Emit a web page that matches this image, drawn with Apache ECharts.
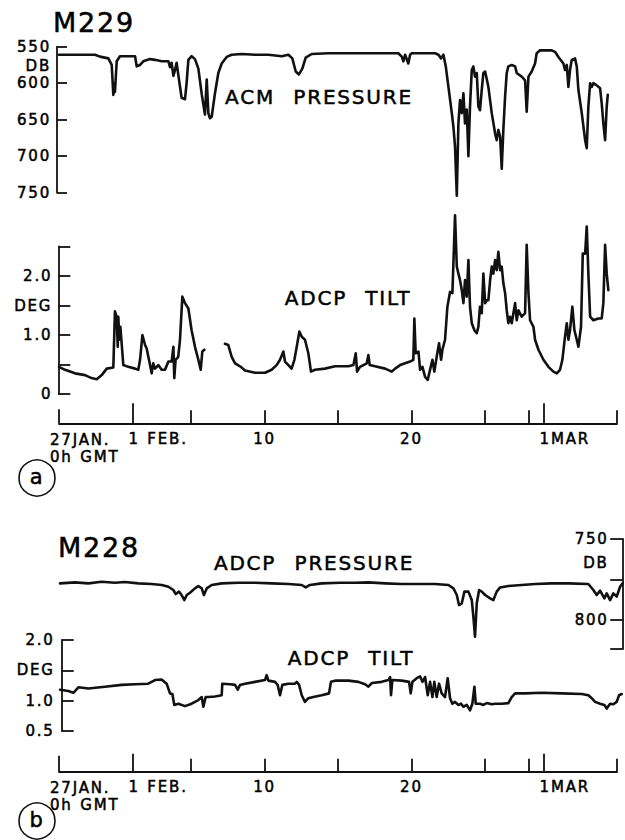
<!DOCTYPE html>
<html>
<head>
<meta charset="utf-8">
<script src="https://cdn.jsdelivr.net/npm/echarts@6/dist/echarts.min.js"></script>
<style>
  html, body { margin: 0; padding: 0; background: #fff; }
  #chart { width: 625px; height: 840px; }
  #chart text { letter-spacing: 1.8px; word-spacing: 1px; }
</style>
</head>
<body>
<div id="chart"></div>
<script>
// Time is counted in days from 27 Jan, 0h GMT.

// ---- M229: ACM pressure (dbar) ----
const m229PressureDays = [0, 1.09, 2.45, 2.79, 3.36, 3.59, 3.70, 3.77, 3.81, 3.93,
  4.15, 5.18, 5.29, 5.52, 5.74, 6.20, 6.54, 6.99, 7.45, 7.56,
  7.67, 7.79, 7.90, 8.01, 8.17, 8.35, 8.58, 8.69, 8.81, 9.03,
  9.26, 9.49, 9.72, 9.94, 10.06, 10.17, 10.28, 10.40, 10.62, 10.85,
  11.08, 11.42, 11.76, 12.44, 13.35, 14.26, 15.17, 15.62, 15.89, 16.12,
  16.34, 16.57, 16.80, 17.21, 18.34, 19.14, 21.07, 23.11, 23.34, 23.45,
  23.57, 23.79, 23.91, 24.02, 25.61, 25.84, 26.02, 26.18, 26.34, 26.52,
  26.75, 26.86, 26.97, 27.09, 27.20, 27.31, 27.43, 27.54, 27.65, 27.77,
  27.88, 27.99, 28.11, 28.22, 28.33, 28.45, 28.56, 28.67, 28.79, 28.90,
  29.02, 29.24, 29.47, 29.70, 29.81, 29.92, 30.04, 30.15, 30.26, 30.38,
  30.49, 30.60, 30.83, 31.06, 31.17, 31.51, 31.74, 31.85, 31.97, 32.19,
  32.42, 32.53, 32.76, 33.56, 33.78, 34.01, 34.35, 34.46, 34.58, 34.69,
  34.80, 34.92, 35.14, 35.26, 35.37, 35.60, 35.83, 35.94, 36.05, 36.17,
  36.28, 36.39, 36.62, 36.85, 36.96, 37.07, 37.19, 37.30, 37.37];
const m229PressureDb = [561, 561, 561, 563.6, 566, 575, 616, 600, 612, 570,
  563, 563, 577, 575, 570, 567, 568, 570, 570, 578,
  572, 590, 582, 572, 595, 620, 622, 600, 568, 563,
  567, 580, 615, 643, 595, 641, 648, 646, 614, 586,
  573, 564, 561, 560, 561, 561, 563, 561, 566, 584,
  588, 580, 565, 560, 559, 559, 559, 559, 563.6, 570,
  561, 573, 561, 559, 559, 561, 566, 561, 577, 605,
  641, 660, 687, 754, 655, 623, 641, 614, 655, 636,
  700, 632, 582, 577, 591, 586, 632, 637, 609, 586,
  584, 605, 641, 669, 678, 664, 673, 717, 664, 618,
  586, 577, 575, 577, 586, 591, 596, 639, 591, 584,
  573, 559, 555, 555, 557, 564, 573, 582, 575, 605,
  582, 568, 566, 577, 609, 641, 678, 689, 632, 600,
  605, 600, 603, 607, 628, 655, 678, 632, 616];

// ---- M229: ADCP tilt (deg); null marks the data gap ----
const m229TiltDays = [0, 0.41, 1.09, 1.77, 2.22, 2.57, 2.91, 3.25, 3.70, 3.81,
  3.93, 4.00, 4.04, 4.11, 4.18, 4.38, 4.72, 5.18, 5.40, 5.52,
  5.68, 5.86, 5.97, 6.20, 6.31, 6.42, 6.54, 6.76, 6.99, 7.22,
  7.45, 7.67, 7.79, 7.85, 7.94, 8.12, 8.24, 8.40, 8.58, 8.81,
  9.03, 9.26, 9.49, 9.65, 9.76, 9.90, 10.60,
  11.30, 11.53, 11.76, 11.99, 12.33, 12.67, 13.35, 14.03, 14.48, 14.82,
  15.05, 15.28, 15.39, 15.62, 15.84, 16.03, 16.19, 16.37, 16.53, 16.75,
  16.98, 17.16, 17.43, 18.11, 18.80, 19.71, 20.05, 20.21, 20.30, 20.50,
  20.96, 21.07, 21.16, 21.52, 22.21, 22.66, 22.89, 23.23, 23.57, 23.91,
  24.13, 24.20, 24.29, 24.48, 24.59, 24.75, 24.93, 25.11, 25.27, 25.43,
  25.56, 25.72, 25.88, 26.02, 26.11, 26.29, 26.45, 26.63, 26.79, 26.97,
  27.09, 27.20, 27.31, 27.43, 27.54, 27.65, 27.77, 27.88, 27.99, 28.11,
  28.29, 28.45, 28.56, 28.67, 28.79, 28.90, 29.02, 29.13, 29.24, 29.36,
  29.47, 29.58, 29.70, 29.81, 29.92, 30.04, 30.15, 30.26, 30.38, 30.49,
  30.60, 30.72, 30.83, 31.06, 31.17, 31.29, 31.51, 31.74, 31.85, 31.97,
  32.08, 32.31, 32.42, 32.65, 32.99, 33.33, 33.67, 33.90, 34.12, 34.28,
  34.46, 34.58, 34.69, 34.80, 34.96, 35.10, 35.26, 35.37, 35.55, 35.67,
  35.83, 35.94, 36.05, 36.17, 36.39, 36.73, 36.96, 37.07, 37.19, 37.30,
  37.41];
const m229TiltDeg = [0.46, 0.41, 0.35, 0.32, 0.27, 0.25, 0.32, 0.43, 0.45, 1.40,
  1.31, 0.80, 1.31, 0.92, 1.14, 0.49, 0.46, 0.43, 0.41, 0.58,
  1.00, 0.83, 0.77, 0.49, 0.35, 0.52, 0.43, 0.49, 0.41, 0.41,
  0.55, 0.55, 0.80, 0.27, 0.58, 0.63, 0.92, 1.65, 1.54, 1.45,
  1.08, 0.80, 0.58, 0.41, 0.72, 0.75, null,
  0.85, 0.83, 0.63, 0.52, 0.47, 0.40, 0.36, 0.36, 0.41, 0.49,
  0.58, 0.72, 0.55, 0.49, 0.43, 0.58, 0.80, 1.06, 0.97, 0.92,
  0.69, 0.38, 0.41, 0.43, 0.47, 0.47, 0.49, 0.69, 0.38, 0.46,
  0.52, 0.66, 0.49, 0.47, 0.43, 0.38, 0.43, 0.49, 0.52, 0.55,
  0.58, 1.28, 0.69, 0.72, 0.41, 0.46, 0.29, 0.24, 0.41, 0.58,
  0.38, 0.63, 0.86, 0.58, 0.75, 0.92, 1.48, 1.73, 1.71, 3.03,
  2.16, 2.04, 1.93, 1.76, 1.54, 1.93, 1.65, 2.27, 1.48, 1.20,
  1.08, 1.03, 1.14, 1.48, 1.37, 2.04, 1.54, 1.59, 1.59, 1.93,
  2.16, 2.04, 2.27, 2.10, 2.41, 2.10, 2.16, 1.88, 1.71, 1.42,
  1.20, 1.31, 1.20, 1.54, 1.25, 1.42, 1.31, 1.37, 2.53, 1.71,
  1.25, 1.14, 0.92, 0.75, 0.58, 0.46, 0.38, 0.35, 0.41, 0.58,
  0.97, 1.20, 0.92, 1.08, 1.48, 1.08, 0.92, 0.80, 1.14, 2.38,
  2.38, 2.84, 2.04, 1.31, 1.25, 1.28, 1.28, 1.54, 2.53, 2.04,
  1.76];

// ---- M228: ADCP pressure (dbar) ----
const m228PressureDays = [0.07, 1.09, 2.0, 2.9, 3.81, 4.49, 5.4, 6.3, 7.0, 7.45,
  7.79, 7.95, 8.17, 8.35, 8.54, 8.70, 8.92, 9.26, 9.49, 9.72,
  9.87, 10.06, 10.40, 11.08, 12.21, 13.35, 14.48, 15.62, 16.53, 16.80,
  17.09, 17.89, 19.14, 20.16, 21.07, 22.21, 23.34, 24.70, 25.61, 26.52,
  26.86, 27.09, 27.24, 27.43, 27.61, 27.88, 28.11, 28.22, 28.33, 28.45,
  28.61, 28.79, 29.02, 29.36, 29.58, 29.81, 30.04, 30.60, 31.51, 32.42,
  33.56, 34.69, 36.05, 36.39, 36.62, 36.85, 37.14, 37.30, 37.53, 37.75,
  37.98, 38.21, 38.37];
const m228PressureDb = [777.5, 776.9, 777.5, 776.5, 777.1, 776.7, 777.5, 777.9, 778.5, 779.6,
  781.6, 784.1, 782.6, 784.7, 787.8, 784.7, 783.3, 780.6, 779.1, 780.6,
  784.7, 780.6, 778.5, 777.5, 777.1, 777.1, 777.5, 777.9, 778.5, 780,
  778.5, 777.5, 777.1, 777.1, 776.9, 777.5, 777.9, 777.9, 777.9, 778.5,
  780.6, 784.7, 790.9, 789.8, 782.6, 782.6, 787.8, 798.1, 810.4, 789.8,
  781.6, 782.6, 784.7, 786.8, 787.8, 782.6, 780, 779.1, 778.5, 777.9,
  777.5, 777.5, 777.9, 781.6, 784.7, 782, 786.8, 783.7, 787.8, 783.7,
  785.7, 779.6, 777.5];

// ---- M228: ADCP tilt (deg) ----
const m228TiltDays = [0.07, 0.63, 0.98, 1.32, 2.0, 3.13, 4.27, 5.18, 6.08, 6.54,
  6.99, 7.33, 7.56, 7.72, 7.85, 8.13, 8.58, 9.03, 9.49, 9.72,
  9.83, 9.99, 10.17, 10.62, 11.08, 11.12, 11.65, 11.99, 12.17, 12.33,
  12.67, 13.35, 14.03, 14.14, 14.26, 14.71, 14.89, 15.05, 15.21, 15.62,
  16.07, 16.19, 16.35, 16.53, 16.75, 16.98, 17.32, 17.89, 18.39, 18.52,
  18.80, 19.71, 20.39, 20.84, 21.07, 21.30, 21.98, 22.43, 22.55, 22.61,
  22.70, 23.34, 23.84, 23.95, 24.07, 24.36, 24.59, 24.75, 24.93, 25.11,
  25.27, 25.43, 25.56, 25.72, 25.88, 26.06, 26.29, 26.47, 26.63, 26.79,
  26.97, 27.20, 27.38, 27.54, 27.77, 27.99, 28.15, 28.29, 28.38, 28.67,
  28.90, 29.13, 29.47, 29.70, 30.15, 30.60, 30.83, 31.06, 31.74, 32.87,
  34.24, 35.60, 36.05, 36.28, 36.51, 36.85, 37.14, 37.30, 37.53, 37.75,
  37.98, 38.14, 38.32];
const m228TiltDeg = [1.18, 1.16, 1.13, 1.22, 1.20, 1.23, 1.26, 1.27, 1.28, 1.34,
  1.35, 1.28, 1.12, 1.11, 0.93, 0.95, 0.91, 0.95, 1.01, 1.06,
  0.90, 1.06, 1.06, 1.07, 1.09, 1.28, 1.27, 1.26, 1.18, 1.26,
  1.28, 1.31, 1.34, 1.42, 1.33, 1.31, 1.26, 1.09, 1.26, 1.28,
  1.28, 1.31, 1.26, 1.09, 0.98, 1.04, 1.06, 1.09, 1.12, 1.31,
  1.33, 1.33, 1.31, 1.27, 1.23, 1.29, 1.31, 1.34, 1.39, 1.09,
  1.34, 1.33, 1.31, 1.12, 1.31, 1.37, 1.40, 1.31, 1.39, 1.09,
  1.31, 1.06, 1.31, 1.06, 1.28, 1.12, 1.06, 1.37, 1.04, 0.95,
  0.98, 0.93, 0.95, 0.90, 0.93, 0.84, 0.95, 1.23, 0.95, 0.95,
  0.93, 0.96, 0.94, 0.95, 0.95, 0.96, 1.06, 1.12, 1.12, 1.13,
  1.12, 1.11, 1.09, 1.04, 0.98, 0.95, 0.93, 0.87, 0.95, 0.94,
  0.98, 1.09, 1.11];

// ---- Time axis: tick days and labels ----
const spanDays = 38;                         // 27 Jan -> 6 Mar
const minorTickDays = [9, 14, 19, 24, 29, 32, 38];
const dayLabelDays = [14, 24];
const dayLabelTexts = ['10', '20'];
const monthTickDays = [5, 33];
const monthLabelTexts = ['1 FEB.', '1MAR'];
const startTickDays = [0];
const startLabelText = '27JAN.\n0h GMT';

// ---- Vertical axes: ticks and labels ----
const m229PressureTicks = [550, 600, 650, 700, 750];
const m229PressureLabelValues = [550, 576, 600, 650, 700, 750];
const m229PressureLabelTexts = ['550', 'DB', '600', '650', '700', '750'];
const m229TiltTicks = [0, 0.5, 1, 1.5, 2, 2.5];
const m229TiltLabelValues = [0, 1, 1.5, 2];
const m229TiltLabelTexts = ['0', '1.0', 'DEG', '2.0'];
const m228PressureTicks = [750, 775, 800, 818];
const m228PressureLabelValues = [750, 765, 800];
const m228PressureLabelTexts = ['750', 'DB', '800'];
const m228TiltTicks = [0.5, 1, 1.5, 2];
const m228TiltLabelValues = [0.5, 1, 1.5, 2];
const m228TiltLabelTexts = ['0.5', '1.0', 'DEG', '2.0'];

const INK = '#111';
const FONT = 'DejaVu Sans';
const labelStyle = {
  color: '#000', fontFamily: FONT, fontSize: 15,
  textBorderColor: '#000', textBorderWidth: 0.5
};
const axisLineStyle = { color: INK, width: 1.8 };

const zip = (xs, ys) => xs.map((x, i) => [x, ys[i]]);
const lookup = (values, texts) => v => {
  const i = values.findIndex(u => Math.abs(u - v) < 1e-6);
  return i < 0 ? '' : texts[i];
};

// Panel grids share the same day -> pixel scale.
const plotLeft = 59, plotRight = 8, wideRight = 2.3;
const pxPerDay = (625 - plotLeft - plotRight) / spanDays;
const wideSpan = (625 - plotLeft - wideRight) / pxPerDay;

const grids = [
  { left: plotLeft, right: plotRight, top: 46.7, height: 146 },   // M229 pressure
  { left: plotLeft, right: plotRight, top: 246.5, height: 147.5 }, // M229 tilt
  { left: plotLeft, right: plotRight, top: 410, height: 13.3 },   // M229 time axis
  { left: plotLeft, right: wideRight, top: 538.8, height: 110.2 }, // M228 pressure
  { left: plotLeft, right: wideRight, top: 640, height: 91 },      // M228 tilt
  { left: plotLeft, right: plotRight, top: 758, height: 13.7 }    // M228 time axis
];

function hiddenX(gridIndex, max) {
  return { gridIndex, type: 'value', min: 0, max, show: false };
}
function hiddenY(gridIndex) {
  return { gridIndex, type: 'value', min: 0, max: 1, show: false };
}

function timeAxes(gridIndex, minorLen, monthLen, startLen) {
  const base = {
    gridIndex, type: 'value', position: 'bottom', min: 0, max: spanDays,
    splitLine: { show: false }
  };
  return [
    Object.assign({}, base, {
      axisLine: { show: true, onZero: false, lineStyle: axisLineStyle },
      axisTick: { show: true, inside: true, length: minorLen, customValues: minorTickDays, lineStyle: axisLineStyle },
      axisLabel: Object.assign({}, labelStyle, {
        customValues: dayLabelDays, margin: 8, align: 'center',
        formatter: lookup(dayLabelDays, dayLabelTexts)
      })
    }),
    Object.assign({}, base, {
      axisLine: { show: false, onZero: false },
      axisTick: { show: true, inside: true, length: monthLen, customValues: monthTickDays, lineStyle: axisLineStyle },
      axisLabel: Object.assign({}, labelStyle, {
        customValues: monthTickDays, margin: 8, align: 'left', padding: [0, 0, 0, -4],
        formatter: lookup(monthTickDays, monthLabelTexts)
      })
    }),
    Object.assign({}, base, {
      axisLine: { show: false, onZero: false },
      axisTick: { show: true, inside: true, length: startLen, customValues: startTickDays, lineStyle: axisLineStyle },
      axisLabel: Object.assign({}, labelStyle, {
        customValues: startTickDays, margin: 8, align: 'left', lineHeight: 17,
        padding: [0, 0, 0, -9], showMinLabel: true,
        formatter: () => startLabelText
      })
    })
  ];
}

const xAxis = [
  hiddenX(0, spanDays),            // 0
  hiddenX(1, spanDays),            // 1
  ...timeAxes(2, 13, 20, 14),      // 2,3,4
  hiddenX(3, wideSpan),            // 5
  hiddenX(4, wideSpan),            // 6
  ...timeAxes(5, 13, 18, 16)       // 7,8,9
];

const yAxis = [
  { // M229 pressure, inverted
    gridIndex: 0, type: 'value', position: 'left', offset: 2, inverse: true,
    min: 550, max: 750,
    axisLine: { show: true, onZero: false, lineStyle: axisLineStyle },
    axisTick: { show: true, inside: true, length: 10, customValues: m229PressureTicks, lineStyle: axisLineStyle },
    axisLabel: Object.assign({}, labelStyle, {
      customValues: m229PressureLabelValues, margin: 6,
      formatter: lookup(m229PressureLabelValues, m229PressureLabelTexts)
    }),
    splitLine: { show: false }
  },
  { // M229 tilt
    gridIndex: 1, type: 'value', position: 'left', offset: 0.7,
    min: 0, max: 2.5,
    axisLine: { show: true, onZero: false, lineStyle: axisLineStyle },
    axisTick: { show: true, inside: true, length: 12, customValues: m229TiltTicks, lineStyle: axisLineStyle },
    axisLabel: Object.assign({}, labelStyle, {
      customValues: m229TiltLabelValues, margin: 6,
      formatter: lookup(m229TiltLabelValues, m229TiltLabelTexts)
    }),
    splitLine: { show: false }
  },
  hiddenY(2),
  { // M228 pressure, inverted, on the right
    gridIndex: 3, type: 'value', position: 'right', inverse: true,
    min: 750, max: 818,
    axisLine: { show: true, onZero: false, lineStyle: axisLineStyle },
    axisTick: { show: true, inside: true, length: 12.5, customValues: m228PressureTicks, lineStyle: axisLineStyle },
    axisLabel: Object.assign({}, labelStyle, {
      inside: true, customValues: m228PressureLabelValues, margin: 14,
      formatter: lookup(m228PressureLabelValues, m228PressureLabelTexts)
    }),
    splitLine: { show: false }
  },
  { // M228 tilt
    gridIndex: 4, type: 'value', position: 'left', offset: -2.7,
    min: 0.5, max: 2.0,
    axisLine: { show: true, onZero: false, lineStyle: axisLineStyle },
    axisTick: { show: true, inside: true, length: 12, customValues: m228TiltTicks, lineStyle: axisLineStyle },
    axisLabel: Object.assign({}, labelStyle, {
      customValues: m228TiltLabelValues, margin: 7,
      formatter: lookup(m228TiltLabelValues, m228TiltLabelTexts)
    }),
    splitLine: { show: false }
  },
  hiddenY(5)
];

function trace(xAxisIndex, yAxisIndex, data) {
  return {
    type: 'line', xAxisIndex, yAxisIndex, data,
    showSymbol: false, symbol: 'none', clip: false, connectNulls: false,
    lineStyle: { color: INK, width: 2.6, join: 'round', cap: 'round' },
    silent: true
  };
}

function label(text, x, y, size, align) {
  return {
    type: 'text', x, y, silent: true,
    style: {
      text, fill: '#000', font: size + 'px "' + FONT + '"',
      stroke: '#000', lineWidth: 0.5,
      align: align || 'center', textAlign: align || 'center',
      verticalAlign: 'middle', textVerticalAlign: 'middle'
    }
  };
}
function panelMark(letter, cx, cy) {
  return [
    { type: 'circle', shape: { cx, cy, r: 18 }, silent: true,
      style: { fill: 'none', stroke: INK, lineWidth: 1.6 } },
    label(letter, cx, cy - 1, 21)
  ];
}

const chart = echarts.init(document.getElementById('chart'), null, { renderer: 'svg' });
chart.setOption({
  backgroundColor: '#fff',
  animation: false,
  grid: grids,
  xAxis,
  yAxis,
  series: [
    trace(0, 0, zip(m229PressureDays, m229PressureDb)),
    trace(1, 1, zip(m229TiltDays, m229TiltDeg)),
    trace(5, 3, zip(m228PressureDays, m228PressureDb)),
    trace(6, 4, zip(m228TiltDays, m228TiltDeg))
  ],
  graphic: [
    label('M229', 53, 22, 27, 'left'),
    label('ACM  PRESSURE', 319, 97, 20),
    label('ADCP  TILT', 348, 298, 20),
    ...panelMark('a', 37, 478),
    label('M228', 58, 547, 27, 'left'),
    label('ADCP  PRESSURE', 314, 563, 20),
    label('ADCP  TILT', 351, 658, 20),
    ...panelMark('b', 37, 821)
  ]
});
</script>
</body>
</html>
